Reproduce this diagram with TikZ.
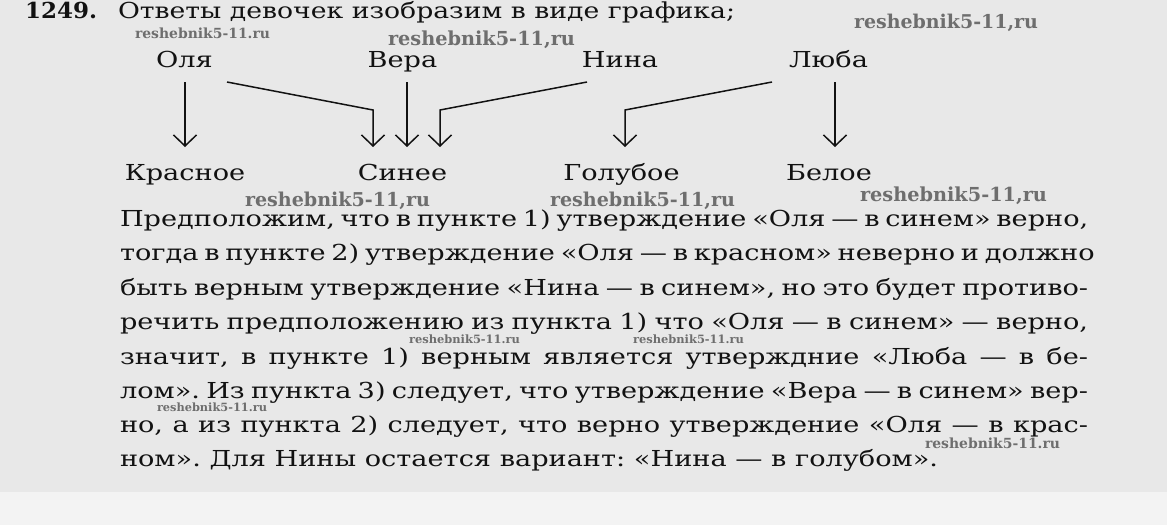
\documentclass[tikz,border=0pt]{standalone}
\usepackage{fontspec}
\setmainfont{DejaVu Serif}
\usepackage{graphicx}
\usetikzlibrary{arrows.meta,calc}
\definecolor{ink}{HTML}{121212}
\definecolor{wmgray}{HTML}{6E6E6E}
\definecolor{paper}{HTML}{E8E8E8}
\definecolor{paperlow}{HTML}{F3F3F3}
\newsavebox\calbox
\newcommand\jline[1]{\scalebox{\hr}[1]{\makebox[\jw pt][s]{#1}}}
\newcommand\nline[1]{\scalebox{\hr}[1]{#1}}
\newcommand\wmk[2]{\resizebox{#1pt}{!}{#2}}
\frenchspacing
\begin{document}
\sbox\calbox{\fontsize{22}{26}\selectfont ном». Для Нины остается вариант: «Нина — в голубом».}%
\pgfmathsetmacro\hr{818/\the\wd\calbox}%
\pgfmathsetmacro\jw{968/\hr}%
\sbox\calbox{\fontsize{22}{26}\selectfont Ответы девочек изобразим в виде графика;}%
\pgfmathsetmacro\tr{617/\the\wd\calbox}%
\sbox\calbox{\fontsize{22}{26}\selectfont\bfseries 1249.}%
\pgfmathsetmacro\nr{72/\the\wd\calbox}%
\begin{tikzpicture}[x=1pt,y=-1pt,
  txt/.style={inner sep=0pt, outer sep=0pt, text=ink, font=\fontsize{22}{26}\selectfont},
  lab/.style={txt, anchor=base},
  body/.style={txt, anchor=base west},
  wm/.style={inner sep=0pt, outer sep=0pt, anchor=base west, text=wmgray, font=\bfseries},
  arr/.style={draw=ink, line width=1.5pt, -{Straight Barb[length=11pt,width=23pt]}}]
\fill[paper] (0,0) rectangle (1167,492);
\fill[paperlow] (0,492) rectangle (1167,525);
\useasboundingbox (0,0) rectangle (1167,525);
% title
\node[txt, anchor=base west, font=\fontsize{22}{26}\selectfont\bfseries] (num) at (25,18) {\scalebox{\nr}[1]{1249.}};
\node[txt, anchor=base west] (title) at (118,18) {\scalebox{\tr}[1]{Ответы девочек изобразим в виде графика;}};
% graph
\node[lab] (olya) at (184.5,67) {\nline{Оля}};
\node[lab] (vera) at (402.5,67) {\nline{Вера}};
\node[lab] (nina) at (620,67) {\nline{Нина}};
\node[lab] (luba) at (828.5,67) {\nline{Люба}};
\node[lab] (krasnoe) at (185,180) {\nline{Красное}};
\node[lab] (sinee) at (402.5,180) {\nline{Синее}};
\node[lab] (golub) at (621.5,180) {\nline{Голубое}};
\node[lab] (beloe) at (829,180) {\nline{Белое}};
\draw[arr] ($(olya.base)+(0.5,15)$) -- ($(olya.base |- krasnoe.base)+(0.5,-33)$);
\draw[arr] ($(olya.base)+(42.5,15)$) -- ($(sinee.base)+(-29.5,-70)$) -- ($(sinee.base)+(-29.5,-33)$);
\draw[arr] ($(vera.base)+(4.5,15)$) -- ($(vera.base |- sinee.base)+(4.5,-33)$);
\draw[arr] ($(nina.base)+(-33,15)$) -- ($(sinee.base)+(37.5,-70)$) -- ($(sinee.base)+(37.5,-33)$);
\draw[arr] ($(luba.base)+(-56.5,15)$) -- ($(golub.base)+(3.5,-70)$) -- ($(golub.base)+(3.5,-33)$);
\draw[arr] ($(luba.base)+(6.5,15)$) -- ($(luba.base |- beloe.base)+(6.5,-33)$);
% body text
\node[body] (l1) at (120,226.5) {\jline{Предположим, что в пункте 1) утверждение «Оля — в синем» верно,}};
\node[body] (l2) at (120,260.9) {\jline{тогда в пункте 2) утверждение «Оля — в красном» неверно и должно}};
\node[body] (l3) at (120,295.3) {\jline{быть верным утверждение «Нина — в синем», но это будет противо-}};
\node[body] (l4) at (120,329.7) {\jline{речить предположению из пункта 1) что «Оля — в синем» — верно,}};
\node[body] (l5) at (120,364.1) {\jline{значит, в пункте 1) верным является утверждние «Люба — в бе-}};
\node[body] (l6) at (120,398.5) {\jline{лом». Из пункта 3) следует, что утверждение «Вера — в синем» вер-}};
\node[body] (l7) at (120,432.9) {\jline{но, а из пункта 2) следует, что верно утверждение «Оля — в крас-}};
\node[body] (l8) at (120,466) {\nline{ном». Для Нины остается вариант: «Нина — в голубом».}};
% watermarks
\node[wm] (w1) at (135,38) {\wmk{135}{reshebnik5-11.ru}};
\node[wm] (w2) at (388,45) {\wmk{187}{reshebnik5-11,ru}};
\node[wm] (w3) at (854,28) {\wmk{184}{reshebnik5-11,ru}};
\node[wm] (w4) at (245,206) {\wmk{185}{reshebnik5-11,ru}};
\node[wm] (w5) at (550,206) {\wmk{185}{reshebnik5-11,ru}};
\node[wm] (w6) at (860,201) {\wmk{187}{reshebnik5-11,ru}};
\node[wm] (w7) at (409,343) {\wmk{111}{reshebnik5-11.ru}};
\node[wm] (w8) at (633,343) {\wmk{111}{reshebnik5-11.ru}};
\node[wm] (w9) at (157,411) {\wmk{110}{reshebnik5-11.ru}};
\node[wm] (w10) at (925,448) {\wmk{135}{reshebnik5-11.ru}};
\end{tikzpicture}
\end{document}
